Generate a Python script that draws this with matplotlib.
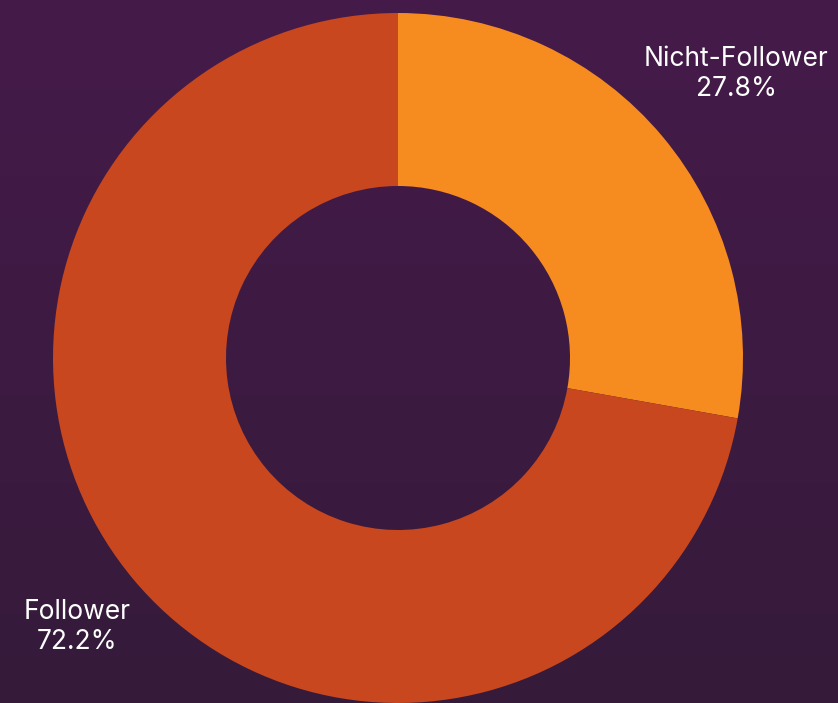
import numpy as np
import matplotlib.pyplot as plt
from matplotlib.colors import LinearSegmentedColormap

labels = ['Nicht-Follower', 'Follower']
shares = [27.8, 72.2]
colors = ['#f68b1f', '#c8471e']
label_dist = [1.28, 1.215]

plt.rcParams['font.family'] = ['Inter', 'DejaVu Sans']

W, H = 838, 703
fig = plt.figure(figsize=(W / 100, H / 100), dpi=100)
ax = fig.add_axes([0, 0, 1, 1])

# background gradient
bg = LinearSegmentedColormap.from_list('bg', ['#451a4a', '#351b3a'])
grad = np.linspace(0, 1, 256).reshape(-1, 1)
ax.imshow(grad, cmap=bg, extent=[0, W, 0, H], aspect='auto', zorder=0, origin='upper')

cx, cy, r = 398, H - 358, 345
wedges, _ = ax.pie(shares, colors=colors, startangle=90, counterclock=False,
                   center=(cx, cy), radius=r,
                   wedgeprops=dict(width=173, linewidth=0))
for w in wedges:
    w.set_zorder(2)

start = 90
for lab, val, d in zip(labels, shares, label_dist):
    mid = np.deg2rad(start - val * 3.6 / 2)
    start -= val * 3.6
    x = cx + r * d * np.cos(mid)
    y = cy + r * d * np.sin(mid)
    ax.text(x, y, f'{lab}\n{val:.1f}%', ha='center', va='center', color='white',
            fontsize=19, linespacing=1.2, zorder=3)

ax.set_xlim(0, W)
ax.set_ylim(0, H)
ax.set_aspect('auto')
ax.axis('off')

fig.savefig('out.png', dpi=100)
